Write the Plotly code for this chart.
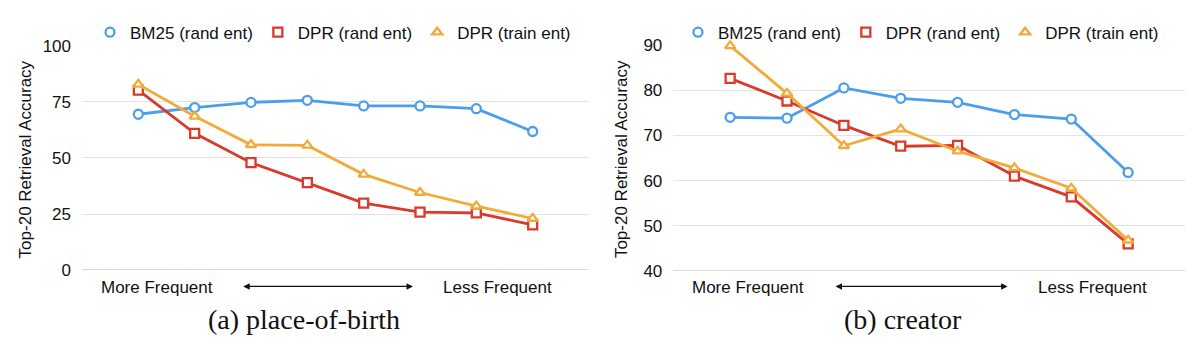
import plotly.graph_objects as go

positions = list(range(8))

# (a) place-of-birth
pob_bm25 = [69.5, 72.5, 74.8, 75.7, 73.2, 73.2, 72.0, 61.8]
pob_dpr_rand = [80.3, 61.0, 47.9, 39.0, 29.9, 25.8, 25.5, 20.2]
pob_dpr_train = [82.8, 68.6, 55.9, 55.6, 42.7, 34.6, 28.5, 23.0]

# (b) creator
cre_bm25 = [74.0, 73.8, 80.5, 78.2, 77.3, 74.6, 73.6, 61.8]
cre_dpr_rand = [82.6, 77.6, 72.2, 67.6, 67.8, 61.0, 56.4, 46.0]
cre_dpr_train = [89.8, 79.3, 67.7, 71.4, 66.5, 62.8, 58.3, 46.8]

series_names = ["BM25 (rand ent)", "DPR (rand ent)", "DPR (train ent)"]
colors = ["#4A9EEC", "#D93A2B", "#F2AB3A"]
symbols = ["circle", "square", "triangle-up"]

left_ticks = [0, 25, 50, 75, 100]
right_ticks = [40, 50, 60, 70, 80, 90]

FONT = "Liberation Sans, Arial, Helvetica, sans-serif"
SERIF = "Liberation Serif, Times New Roman, serif"
W, H = 1200, 351

fig = go.Figure()

panels = [
    ("x", "y", [pob_bm25, pob_dpr_rand, pob_dpr_train], "legend"),
    ("x2", "y2", [cre_bm25, cre_dpr_rand, cre_dpr_train], "legend2"),
]
for xa, ya, data, lg in panels:
    for name, vals, c, s in zip(series_names, data, colors, symbols):
        fig.add_trace(go.Scatter(
            x=positions, y=vals, xaxis=xa, yaxis=ya, mode="lines+markers",
            name=name, showlegend=False,
            line=dict(color=c, width=2.8),
            marker=dict(symbol=s, size=9, color="white", line=dict(color=c, width=2.3)),
            cliponaxis=False,
        ))
    for name, c, s in zip(series_names, colors, symbols):
        fig.add_trace(go.Scatter(
            x=[None], y=[None], xaxis=xa, yaxis=ya, mode="markers", name=name,
            legend=lg, showlegend=True,
            marker=dict(symbol=s, size=9, color="white", line=dict(color=c, width=2.3)),
        ))

def px_x(p):
    return p / W

def px_y(p):
    return (H - p) / H

axis_common = dict(showgrid=True, gridcolor="#e3e3e3", gridwidth=1, zeroline=False,
                   tickfont=dict(family=FONT, size=17, color="#111"), ticks="",
                   ticklabelstandoff=10)

fig.update_layout(
    width=W, height=H, margin=dict(l=0, r=0, t=0, b=0),
    paper_bgcolor="white", plot_bgcolor="white",
    font=dict(family=FONT, color="#111"),
    xaxis=dict(domain=[px_x(82), px_x(589)], range=[-1, 8], showticklabels=False,
               showgrid=False, zeroline=False, showline=False),
    yaxis=dict(domain=[px_y(276), px_y(39)], range=[0, 100], tickvals=left_ticks,
               anchor="x", **axis_common),
    xaxis2=dict(domain=[px_x(673.3), px_x(1185)], range=[-1, 8], showticklabels=False,
                showgrid=False, zeroline=False, showline=False, anchor="y2"),
    yaxis2=dict(domain=[px_y(277), px_y(38)], range=[40, 90], tickvals=right_ticks,
                anchor="x2", **axis_common),
    legend=dict(orientation="h", x=px_x(90), xanchor="left", y=px_y(25), yanchor="middle",
                font=dict(family=FONT, size=17, color="#111"), bgcolor="rgba(0,0,0,0)"),
    legend2=dict(orientation="h", x=px_x(678), xanchor="left", y=px_y(25), yanchor="middle",
                 font=dict(family=FONT, size=17, color="#111"), bgcolor="rgba(0,0,0,0)"),
)

# darker baseline at the bottom of each plot
fig.add_shape(type="line", xref="x domain", yref="y", x0=0, x1=1, y0=0, y1=0,
              line=dict(color="#cfcfcf", width=1.5))
fig.add_shape(type="line", xref="x2 domain", yref="y2", x0=0, x1=1, y0=40, y1=40,
              line=dict(color="#cfcfcf", width=1.5))

annotations = []
# y-axis titles
for cx in (25, 621.7):
    annotations.append(dict(text="Top-20 Retrieval Accuracy", xref="paper", yref="paper",
                            x=px_x(cx), y=px_y(159), textangle=-90, showarrow=False,
                            font=dict(family=FONT, size=17, color="#111"),
                            xanchor="center", yanchor="middle"))
# frequency labels and arrows
for mf, a0, a1, lf in ((156.7, 241.7, 413, 497), (748, 834, 1007.6, 1092.5)):
    annotations.append(dict(text="More Frequent", xref="paper", yref="paper", x=px_x(mf),
                            y=px_y(294), showarrow=False, xanchor="center", yanchor="middle",
                            font=dict(family=FONT, size=17, color="#111")))
    annotations.append(dict(text="Less Frequent", xref="paper", yref="paper", x=px_x(lf),
                            y=px_y(294), showarrow=False, xanchor="center", yanchor="middle",
                            font=dict(family=FONT, size=17, color="#111")))
    annotations.append(dict(text="", xref="paper", yref="paper", x=px_x(a1), y=px_y(293.3),
                            ax=-(a1 - a0), ay=0, axref="pixel", ayref="pixel",
                            showarrow=True, arrowside="end+start", arrowhead=2,
                            startarrowhead=2, arrowsize=1, startarrowsize=1, arrowwidth=1.3,
                            arrowcolor="#111", standoff=0, startstandoff=0))
# captions
annotations.append(dict(text="(a) place-of-birth", xref="paper", yref="paper", x=px_x(304),
                        y=px_y(328), showarrow=False, xanchor="center", yanchor="middle",
                        font=dict(family=SERIF, size=28, color="#111")))
annotations.append(dict(text="(b) creator", xref="paper", yref="paper", x=px_x(903),
                        y=px_y(328), showarrow=False, xanchor="center", yanchor="middle",
                        font=dict(family=SERIF, size=28, color="#111")))
fig.update_layout(annotations=annotations)

fig.write_html("out.html")
